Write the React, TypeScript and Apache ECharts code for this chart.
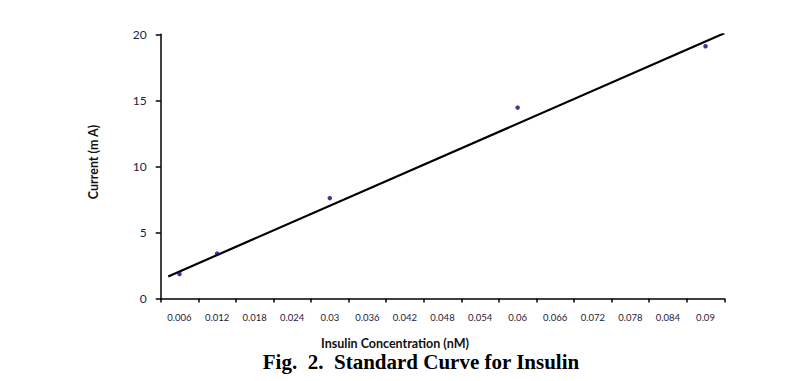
import React, { useEffect, useRef } from "react";
import * as echarts from "echarts";

// Category tick labels on the x axis (insulin concentration, nM)
const categories = [
  "0.006", "0.012", "0.018", "0.024", "0.03", "0.036", "0.042", "0.048",
  "0.054", "0.06", "0.066", "0.072", "0.078", "0.084", "0.09",
];
// Measured points
const concentrations = [0.006, 0.012, 0.03, 0.06, 0.09];
const currents = [1.85, 3.4, 7.6, 14.45, 19.1];
// Linear trend line (start/end)
const trendConc = [0.0042, 0.093];
const trendCurrent = [1.67, 20.08];
// Y axis
const yMin = 0;
const yMax = 20;
const yStep = 5;

export default function App() {
  const ref = useRef<HTMLDivElement>(null);
  useEffect(() => {
    if (!ref.current) return;
    const chart = echarts.init(ref.current, undefined, { renderer: "svg" });
    const labelColor = "#1c1c3c";
    chart.setOption({
      animation: false,
      backgroundColor: "#ffffff",
      grid: { left: 160.7, right: 63.7, top: 34.3, bottom: 82.5 },
      xAxis: [
        {
          type: "category",
          data: categories,
          boundaryGap: true,
          axisLine: { show: true, lineStyle: { color: "#000", width: 1.5 } },
          axisTick: { show: true, length: 4, lineStyle: { color: "#000", width: 1.5 } },
          axisLabel: {
            interval: 0,
            margin: 14,
            fontSize: 9.5,
            fontFamily: "Lato",
            color: labelColor,
          },
          splitLine: { show: false },
        },
        {
          type: "value",
          min: 0.003,
          max: 0.093,
          show: false,
        },
      ],
      yAxis: {
        type: "value",
        min: yMin,
        max: yMax,
        interval: yStep,
        axisLine: { show: true, lineStyle: { color: "#000", width: 1.5 } },
        axisTick: { show: true, length: 5, inside: false, lineStyle: { color: "#000", width: 1.5 } },
        axisLabel: { margin: 14, fontSize: 12, fontFamily: "Lato", color: labelColor },
        splitLine: { show: false },
      },
      series: [
        {
          type: "line",
          xAxisIndex: 1,
          data: trendConc.map((c, i) => [c, trendCurrent[i]]),
          symbol: "none",
          lineStyle: { color: "#000", width: 2.2 },
          z: 2,
        },
        {
          type: "scatter",
          xAxisIndex: 1,
          data: concentrations.map((c, i) => [c, currents[i]]),
          symbol: "circle",
          symbolSize: 4.5,
          itemStyle: { color: "#0a0a78" },
          z: 3,
        },
      ],
      graphic: [
        {
          type: "text",
          x: 93,
          y: 162,
          rotation: Math.PI / 2,
          style: {
            text: "Current (m A)",
            font: "bold 12.5px Lato",
            fill: "#111",
            align: "center",
            verticalAlign: "middle",
          },
        },
        {
          type: "text",
          x: 395,
          y: 343.5,
          style: {
            text: "Insulin Concentration (nM)",
            font: "bold 12.5px Lato",
            fill: "#111",
            align: "center",
            verticalAlign: "middle",
          },
        },
        {
          type: "text",
          x: 421,
          y: 362,
          style: {
            text: "Fig.  2.  Standard Curve for Insulin",
            font: "bold 21px 'Liberation Serif'",
            fill: "#000",
            align: "center",
            verticalAlign: "middle",
          },
        },
      ],
    });
    return () => chart.dispose();
  }, []);
  return (
    <div
      ref={ref}
      style={{ position: "fixed", left: 0, top: 0, width: 788, height: 381, background: "#fff" }}
    />
  );
}
